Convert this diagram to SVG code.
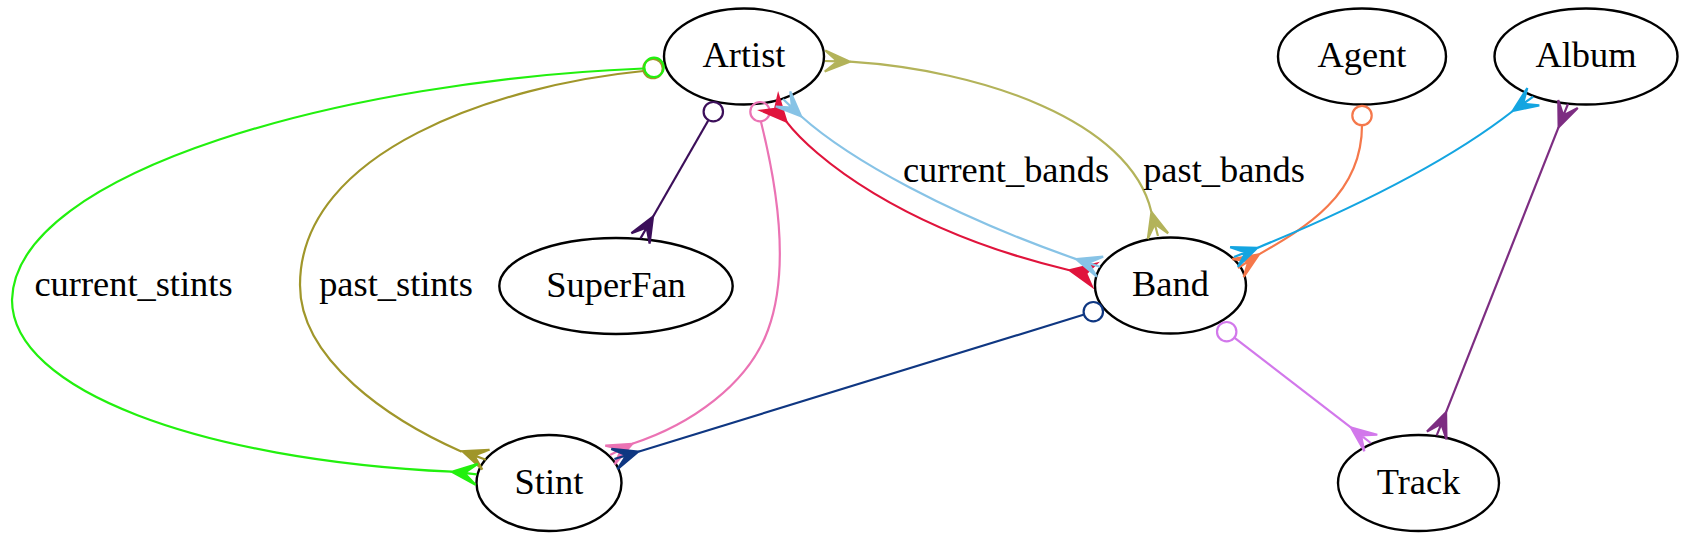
<svg xmlns="http://www.w3.org/2000/svg" xmlns:xlink="http://www.w3.org/1999/xlink" width="1694" height="558" viewBox="0 0 1694 558">
<style>
.node ellipse{fill:none;stroke:#000;stroke-width:2.4}
.node text,.lbl{font-family:"Liberation Serif","Times New Roman",serif;font-size:36.4px;fill:#000;stroke:none;text-anchor:middle}
.edge{stroke-width:2.2;stroke-linejoin:miter}
.edge .ln{fill:none}
.edge .tail{fill:none}
</style>
<defs>
<path id="crow" d="M25,0 L0,-10.5 L12.5,0 L0,0 L12.5,0 L0,10.5 Z"/>
<path id="dart" d="M25,0 L0,-11.5 L8,0 L0,11.5 Z"/>
</defs>
<rect width="1694" height="558" fill="#fff"/>

<g id="nodes">
<g id="Artist" class="node"><ellipse cx="744" cy="56.5" rx="80" ry="48"/><text x="744" y="67">Artist</text></g>
<g id="Agent" class="node"><ellipse cx="1362" cy="56.5" rx="84" ry="48"/><text x="1362" y="67">Agent</text></g>
<g id="Album" class="node"><ellipse cx="1586" cy="56.5" rx="91.5" ry="48"/><text x="1586" y="67">Album</text></g>
<g id="SuperFan" class="node"><ellipse cx="616" cy="286" rx="116.7" ry="48"/><text x="616" y="296.5">SuperFan</text></g>
<g id="Band" class="node"><ellipse cx="1170.5" cy="285.5" rx="75.5" ry="48"/><text x="1170.5" y="296">Band</text></g>
<g id="Stint" class="node"><ellipse cx="549" cy="483" rx="72.5" ry="48"/><text x="549" y="493.5">Stint</text></g>
<g id="Track" class="node"><ellipse cx="1418.5" cy="483" rx="80.5" ry="48"/><text x="1418.5" y="493.5">Track</text></g>
</g>

<g id="connectors">
<!-- Artist -> Stint past_stints -->
<g class="edge" stroke="#a0962a" fill="#a0962a">
<circle class="tail" cx="653" cy="68.5" r="9.7"/>
<path class="ln" d="M643.5,71 C500,85 300,150 300,285 C300,360 390,420 461.7,451.7"/>
<use xlink:href="#crow" transform="translate(485.9,459.7) rotate(200)"/>
</g>
<!-- Artist -> Stint current_stints -->
<g class="edge" stroke="#22f00e" fill="#22f00e">
<circle class="tail" cx="654" cy="67.3" r="9.7"/>
<path class="ln" d="M643.5,68.5 C350,80 15,170 12,300 C12,390 200,460 451.7,471.7"/>
<use xlink:href="#crow" transform="translate(476.7,474.3) rotate(186)"/>
</g>
<!-- Artist -> SuperFan -->
<g class="edge" stroke="#3c0f5a" fill="#3c0f5a">
<circle class="tail" cx="713.3" cy="111.7" r="9.7"/>
<path class="ln" d="M708.1,120.8 L653,216.7"/>
<use xlink:href="#crow" transform="translate(640.5,238.4) rotate(-60.1)"/>
</g>
<!-- Artist -> Stint (pink) -->
<g class="edge" stroke="#eb73b4" fill="#eb73b4">
<circle class="tail" cx="760" cy="111.7" r="9.7"/>
<path class="ln" d="M761,122 C778,190 790,270 768,330 C748,385 690,425 632.3,443.8"/>
<use xlink:href="#crow" transform="translate(610,455) rotate(-26.7)"/>
</g>
<!-- Band -> Artist (red) -->
<g class="edge" stroke="#e0143c" fill="#e0143c">
<path class="ln" d="M786.4,121.6 C812,155 900,230 1069.5,270.2"/>
<use xlink:href="#dart" transform="translate(769.7,103) rotate(48)"/>
<use xlink:href="#dart" transform="translate(1094,275) rotate(191)"/>
</g>
<!-- current_bands (light blue) -->
<g class="edge" stroke="#87c3e6" fill="#87c3e6">
<path class="ln" d="M801.1,116.3 C850,160 950,215 1076.2,259.1"/>
<use xlink:href="#crow" transform="translate(783,99) rotate(43.7)"/>
<use xlink:href="#crow" transform="translate(1100,266.7) rotate(197.6)"/>
</g>
<!-- past_bands (khaki) -->
<g class="edge" stroke="#b3b35a" fill="#b3b35a">
<path class="ln" d="M850,61.7 C980,70 1130,120 1151.4,211.9"/>
<use xlink:href="#crow" transform="translate(825,61) rotate(1.5)"/>
<use xlink:href="#crow" transform="translate(1158,236) rotate(-105.2)"/>
</g>
<!-- Agent -> Band -->
<g class="edge" stroke="#f5784b" fill="#f5784b">
<circle class="tail" cx="1362" cy="115.5" r="9.7"/>
<path class="ln" d="M1362,125.2 C1362,195 1305,228 1259,254.4"/>
<use xlink:href="#crow" transform="translate(1238,268) rotate(-33)"/>
</g>
<!-- Album <-> Band -->
<g class="edge" stroke="#14a5e1" fill="#14a5e1">
<path class="ln" d="M1257.3,247.9 C1330,218 1440,168 1512.8,111"/>
<use xlink:href="#crow" transform="translate(1234,257) rotate(-21.4)"/>
<use xlink:href="#crow" transform="translate(1533.3,96.7) rotate(145.2)"/>
</g>
<!-- Album -> Track -->
<g class="edge" stroke="#7d2d82" fill="#7d2d82">
<path class="ln" d="M1558.6,127.2 L1446.1,412.2"/>
<use xlink:href="#crow" transform="translate(1568,104) rotate(112)"/>
<use xlink:href="#crow" transform="translate(1436.7,435.4) rotate(-68)"/>
</g>
<!-- Band -> Stint -->
<g class="edge" stroke="#0f3782" fill="#0f3782">
<circle class="tail" cx="1093.3" cy="311.7" r="9.7"/>
<path class="ln" d="M1083.4,314.8 L638.3,451.7"/>
<use xlink:href="#crow" transform="translate(614.4,459) rotate(-17.1)"/>
</g>
<!-- Band -> Track -->
<g class="edge" stroke="#d278eb" fill="#d278eb">
<circle class="tail" cx="1226.7" cy="331.7" r="9.7"/>
<path class="ln" d="M1234.3,337.7 L1351.1,427.6"/>
<use xlink:href="#crow" transform="translate(1370.8,443) rotate(218)"/>
</g>
<text class="lbl" x="133.5" y="296">current_stints</text>
<text class="lbl" x="396" y="296">past_stints</text>
<text class="lbl" x="1006" y="181.7">current_bands</text>
<text class="lbl" x="1224" y="181.7">past_bands</text>
</g>
</svg>
